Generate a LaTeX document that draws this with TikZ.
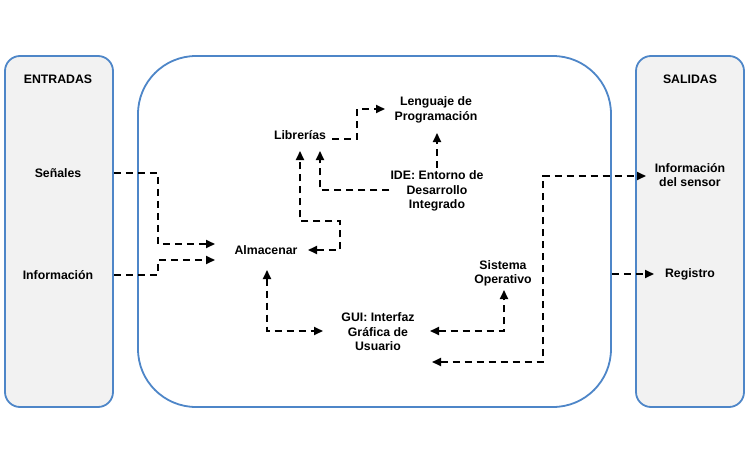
\documentclass[tikz,border=0pt]{standalone}
\usepackage{fontspec}
\setmainfont{Liberation Sans}
\usetikzlibrary{arrows.meta}
\definecolor{boxblue}{RGB}{78,134,200}
\definecolor{boxgray}{RGB}{242,242,242}
\begin{document}
\begin{tikzpicture}[x=1pt,y=-1pt,
  sidebox/.style={draw=boxblue,line width=1.8pt,fill=boxgray,rounded corners=15pt,minimum width=108pt,minimum height=351pt,inner sep=0pt},
  mainbox/.style={draw=boxblue,line width=1.8pt,fill=white,rounded corners=58pt,minimum width=473pt,minimum height=351pt,inner sep=0pt},
  lbl/.style={font=\fontsize{12.3pt}{14.5pt}\selectfont\bfseries,align=center,inner sep=1pt},
  conn/.style={line width=1.9pt,dash pattern=on 7pt off 5pt,-{Triangle[length=9pt,width=8pt]}},
  conn2/.style={line width=1.9pt,dash pattern=on 7pt off 5pt,{Triangle[length=9pt,width=8pt]}-{Triangle[length=9pt,width=8pt]}}]
\path[use as bounding box,fill=white] (0,0) rectangle (750,450);
\node[sidebox] (entradas) at (59,231.5) {};
\node[mainbox] (centro) at (374.5,231.5) {};
\node[sidebox] (salidas) at (690,231.5) {};
% texts
\node[lbl] (tent) at (58,79) {ENTRADAS};
\node[lbl] (senales) at (58,173) {Señales};
\node[lbl] (info) at (58,275) {Información};
\node[lbl] (tsal) at (690,79) {SALIDAS};
\node[lbl] (sensor) at (690,175) {Información\\del sensor};
\node[lbl] (registro) at (690,274) {Registro};
\node[lbl] (almacenar) at (266,250) {Almacenar};
\node[lbl] (librerias) at (300,135) {Librerías};
\node[lbl] (lenguaje) at (436,110) {Lenguaje de\\Programación};
\node[lbl] (ide) at (437,191) {IDE: Entorno de\\Desarrollo\\Integrado};
\node[lbl] (so) at (503,273.5) {Sistema\\Operativo};
\node[lbl] (gui) at (378,332) {GUI: Interfaz\\Gráfica de\\Usuario};
% connectors
\draw[conn] (entradas.east |- senales) -- (158,173) -- (158,244) -- (215,244);
\draw[conn] (entradas.east |- info) -- (158,275) -- (158,260) -- (215,260);
\draw[conn2] (308,250) -- (340,250) -- (340,221) -- (300,221) -- (300,151);
\draw[conn] (ide.west |- 0,190) -- (320,190) -- (320,151);
\draw[conn] (332,139) -- (357,139) -- (357,109) -- (385,109);
\draw[conn] (ide.north) ++(0,-2) -- (437,133);
\draw[conn2] (267,270) -- (267,331) -- (323,331);
\draw[conn2] (430,331) -- (504,331) -- (504,290);
\draw[conn2] (432,362) -- (543,362) -- (543,176) -- (646,176);
\draw[conn] (centro.east |- registro) -- (654,274);
\end{tikzpicture}
\end{document}
